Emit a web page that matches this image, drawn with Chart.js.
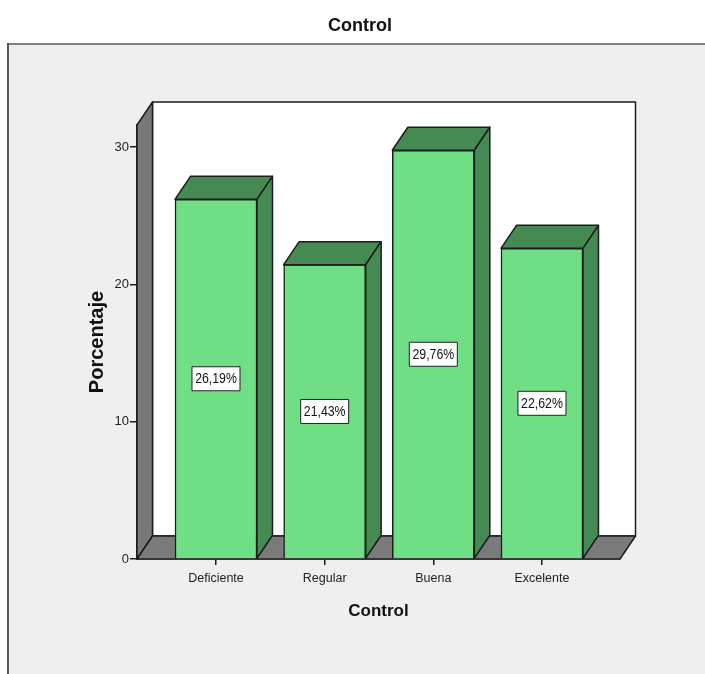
<!DOCTYPE html>
<html>
<head>
<meta charset="utf-8">
<title>Control</title>
<script src="https://cdn.jsdelivr.net/npm/chart.js@4/dist/chart.umd.min.js"></script>
<style>
    html, body { margin: 0; padding: 0; background: #ffffff; }
    canvas { display: block; }
</style>
</head>
<body>
<canvas id="myChart" width="705" height="674"></canvas>
<script>
// Dados do gráfico
const categorias = ['Deficiente', 'Regular', 'Buena', 'Excelente'];
const porcentajes = [26.19, 21.43, 29.76, 22.62];
const marcasY = [0, 10, 20, 30];

// Profundidade do efeito 3D
const depthX = 15.5;
const depthY = -23;

const line = '#1c1c1c';
const fontFamily = '"Liberation Sans", Arial, sans-serif';

function face(ctx, points, fill) {
    ctx.beginPath();
    points.forEach((p, i) => i ? ctx.lineTo(p[0], p[1]) : ctx.moveTo(p[0], p[1]));
    ctx.closePath();
    ctx.fillStyle = fill;
    ctx.fill();
    ctx.lineWidth = 1.5;
    ctx.strokeStyle = line;
    ctx.stroke();
}

// Painel cinza, parede de fundo, parede lateral e piso
const walls = {
    id: 'walls',
    afterLayout(chart) {
        // título centrado no painel e não na área do gráfico
        chart.titleBlock.left = 15;
        chart.titleBlock.right = 705;
    },
    beforeDraw(chart) {
        const c = chart.ctx;
        c.save();
        c.fillStyle = '#efefef';
        c.fillRect(8, 44, chart.width - 8, chart.height - 44);
        c.fillStyle = '#7f7f7f';
        c.fillRect(8, 43, chart.width - 8, 2);
        c.fillStyle = '#555555';
        c.fillRect(7, 43, 2, chart.height - 43);
        c.restore();
    },
    beforeDatasetsDraw(chart) {
        const c = chart.ctx;
        const { left, right, top, bottom } = chart.chartArea;
        c.save();
        c.lineJoin = 'round';
        face(c, [[left + depthX, top + depthY], [right + depthX, top + depthY], [right + depthX, bottom + depthY], [left + depthX, bottom + depthY]], '#ffffff');
        face(c, [[left, top], [left + depthX, top + depthY], [left + depthX, bottom + depthY], [left, bottom]], '#787878');
        face(c, [[left, bottom], [left + depthX, bottom + depthY], [right + depthX, bottom + depthY], [right, bottom]], '#7a7a7a');
        c.restore();
    }
};

// Faces de cima e do lado de cada barra, e a etiqueta de porcentagem
const bars3d = {
    id: 'bars3d',
    afterDatasetsDraw(chart) {
        const c = chart.ctx;
        const meta = chart.getDatasetMeta(0);
        c.save();
        c.lineJoin = 'round';
        meta.data.forEach((bar, i) => {
            const l = bar.x - bar.width / 2;
            const r = bar.x + bar.width / 2;
            face(c, [[l, bar.y], [l + depthX, bar.y + depthY], [r + depthX, bar.y + depthY], [r, bar.y]], '#458a52');
            face(c, [[r, bar.y], [r + depthX, bar.y + depthY], [r + depthX, bar.base + depthY], [r, bar.base]], '#458a52');

            const text = porcentajes[i].toFixed(2).replace('.', ',') + '%';
            const midY = (bar.y + bar.base) / 2;
            c.fillStyle = '#ffffff';
            c.fillRect(bar.x - 24, midY - 12, 48, 24);
            c.lineWidth = 1;
            c.strokeStyle = '#222222';
            c.strokeRect(bar.x - 24, midY - 12, 48, 24);

            // texto da etiqueta um pouco condensado
            c.save();
            c.translate(bar.x, midY + 0.5);
            c.scale(0.82, 1);
            c.fillStyle = '#111111';
            c.font = '15px ' + fontFamily;
            c.textAlign = 'center';
            c.textBaseline = 'middle';
            c.fillText(text, 0, 0);
            c.restore();
        });
        c.restore();
    }
};

const data = {
    datasets: [{
        data: porcentajes.map((v, i) => ({ x: i, y: v })),
        backgroundColor: '#70de85',
        borderColor: line,
        borderWidth: 1.5,
        barThickness: 82
    }]
};

// Configurações do gráfico
const config = {
    type: 'bar',
    data: data,
    plugins: [walls, bars3d],
    options: {
        responsive: false,
        animation: false,
        layout: { padding: { top: 15, left: 15, right: 85, bottom: 0 } },
        plugins: {
            legend: { display: false },
            tooltip: { enabled: false },
            title: {
                display: true,
                text: 'Control',
                color: '#111111',
                font: { family: fontFamily, size: 18, weight: 'bold' },
                padding: { top: 0, bottom: 88.4 }
            }
        },
        scales: {
            x: {
                type: 'linear',
                offset: false,
                min: -0.727,
                max: 3.718,
                afterBuildTicks(scale) {
                    scale.ticks = categorias.map((c, i) => ({ value: i }));
                },
                afterFit(scale) {
                    scale.height = 115;
                },
                border: { color: line, width: 1.5 },
                grid: { offset: false, drawOnChartArea: false, color: line, tickLength: 6, lineWidth: 1.5 },
                ticks: {
                    autoSkip: false,
                    maxRotation: 0,
                    padding: 6,
                    color: '#222222',
                    font: { family: fontFamily, size: 12.5 },
                    callback: v => categorias[v]
                },
                title: {
                    display: true,
                    text: 'Control',
                    color: '#111111',
                    font: { family: fontFamily, size: 17, weight: 'bold' },
                    padding: { top: 0, bottom: 52 }
                }
            },
            y: {
                min: 0,
                max: 31.6,
                afterBuildTicks(scale) {
                    scale.ticks = marcasY.map(v => ({ value: v }));
                },
                afterFit(scale) {
                    scale.width = 122;
                },
                border: { color: line, width: 1.5 },
                grid: { drawOnChartArea: false, color: line, tickLength: 7, lineWidth: 1.5 },
                ticks: {
                    padding: 1,
                    color: '#222222',
                    font: { family: fontFamily, size: 13 }
                },
                title: {
                    display: true,
                    text: 'Porcentaje',
                    color: '#111111',
                    font: { family: fontFamily, size: 20, weight: 'bold' },
                    padding: { top: 70, bottom: 0 }
                }
            }
        }
    }
};

// Renderizando o gráfico
new Chart(document.getElementById('myChart').getContext('2d'), config);
</script>
</body>
</html>
